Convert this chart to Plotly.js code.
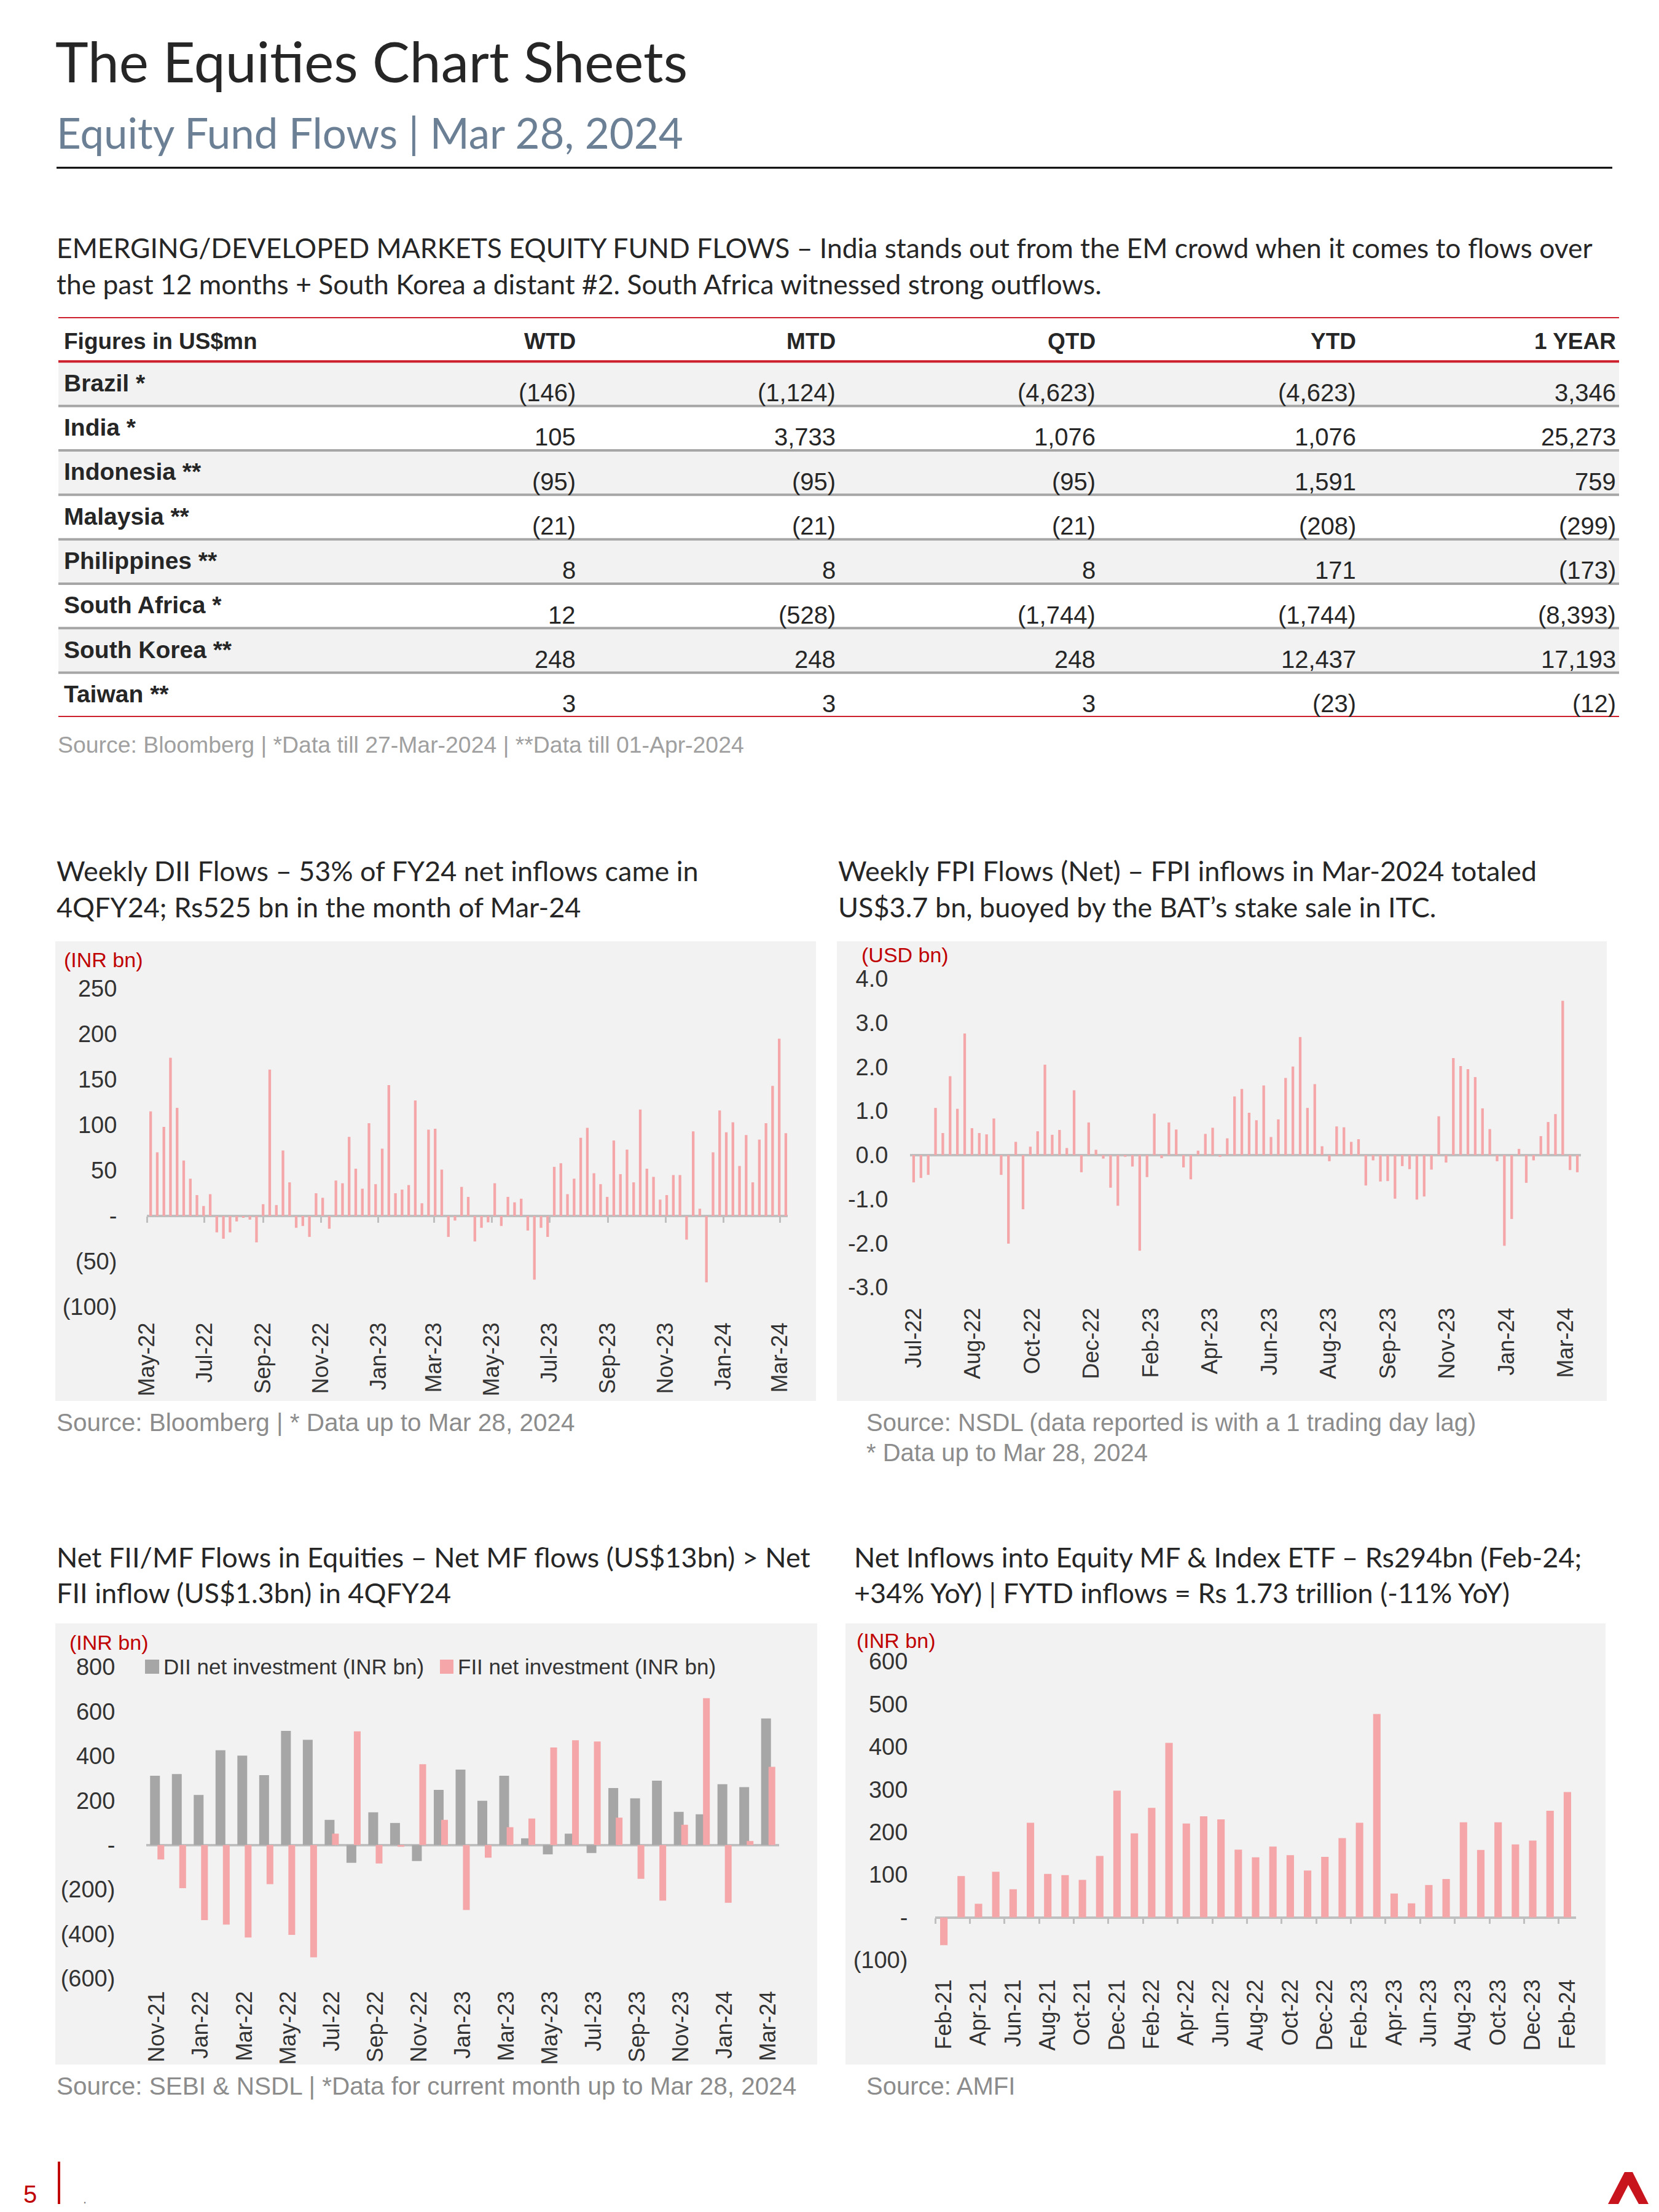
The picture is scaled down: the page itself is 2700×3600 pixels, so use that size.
<!DOCTYPE html>
<html><head><meta charset="utf-8">
<script src="https://cdn.plot.ly/plotly-3.0.1.min.js"></script>
<style>html,body{margin:0;padding:0;background:#fff}</style>
</head><body>
<div id="chart" style="width:2700px;height:3600px"></div>
<script>
// ================= DATA =================
const tableHeaders = ['Figures in US$mn','WTD','MTD','QTD','YTD','1 YEAR'];
const tableCountries = ['Brazil *','India *','Indonesia **','Malaysia **','Philippines **','South Africa *','South Korea **','Taiwan **'];
const wtd     = [-146, 105, -95, -21, 8, 12, 248, 3];
const mtd     = [-1124, 3733, -95, -21, 8, -528, 248, 3];
const qtd     = [-4623, 1076, -95, -21, 8, -1744, 248, 3];
const ytd     = [-4623, 1076, 1591, -208, 171, -1744, 12437, -23];
const oneYear = [3346, 25273, 759, -299, -173, -8393, 17193, -12];

// Weekly DII flows (INR bn)
const diiWeeks = ['2022-05-05','2022-05-12','2022-05-19','2022-05-26','2022-06-02','2022-06-09','2022-06-16','2022-06-23','2022-06-30',
 '2022-07-07','2022-07-14','2022-07-21','2022-07-28','2022-08-04','2022-08-11','2022-08-18','2022-08-25',
 '2022-09-01','2022-09-08','2022-09-15','2022-09-22','2022-09-29','2022-10-06','2022-10-13','2022-10-20','2022-10-27',
 '2022-11-03','2022-11-10','2022-11-17','2022-11-24','2022-12-01','2022-12-08','2022-12-15','2022-12-22','2022-12-29',
 '2023-01-05','2023-01-12','2023-01-19','2023-01-26','2023-02-02','2023-02-09','2023-02-16','2023-02-23',
 '2023-03-02','2023-03-09','2023-03-16','2023-03-23','2023-03-30','2023-04-06','2023-04-13','2023-04-20','2023-04-27',
 '2023-05-04','2023-05-11','2023-05-18','2023-05-25','2023-06-01','2023-06-08','2023-06-15','2023-06-22','2023-06-29',
 '2023-07-06','2023-07-13','2023-07-20','2023-07-27','2023-08-03','2023-08-10','2023-08-17','2023-08-24','2023-08-31',
 '2023-09-07','2023-09-14','2023-09-21','2023-09-28','2023-10-05','2023-10-12','2023-10-19','2023-10-26',
 '2023-11-02','2023-11-09','2023-11-16','2023-11-23','2023-11-30','2023-12-07','2023-12-14','2023-12-21','2023-12-28',
 '2024-01-04','2024-01-11','2024-01-18','2024-01-25','2024-02-01','2024-02-08','2024-02-15','2024-02-22','2024-02-29','2024-03-07'];
const diiFlows = [115,70,98,174,119,61,41,23,11,24,
 -18,-25,-18,-6,-2,-4,-29,13,161,12,
 72,37,-13,-11,-23,25,20,-14,39,36,
 87,52,30,102,35,74,144,25,29,34,
 127,14,95,96,51,-23,-5,32,21,-28,
 -13,-7,36,-11,21,15,19,-16,-70,-13,
 -23,54,58,24,41,86,97,47,35,21,
 83,46,73,37,117,52,43,18,23,45,
 45,-26,93,8,-73,70,116,92,103,55,
 89,37,84,102,143,195,91];
const diiYTicks = [-100,-50,0,50,100,150,200,250];
const diiYLabels = ['(100)','(50)','-','50','100','150','200','250'];

// Weekly FPI flows (USD bn)
const fpiFlows = [-0.62,-0.52,-0.45,1.07,0.50,1.79,1.05,2.76,0.61,0.50,
 0.47,0.83,-0.45,-2.01,0.30,-1.23,0.19,0.54,2.05,0.46,
 0.57,0.16,1.47,-0.39,0.74,0.12,-0.08,-0.74,-1.15,-0.04,
 -0.26,-2.17,-0.50,0.94,-0.07,0.74,0.58,-0.28,-0.55,0.10,
 0.48,0.62,-0.04,0.38,1.33,1.50,0.96,0.79,1.58,0.41,
 0.81,1.75,2.01,2.68,1.07,1.61,0.20,-0.14,0.65,0.63,
 0.30,0.36,-0.69,-0.12,-0.60,-0.59,-0.99,-0.25,-0.32,-1.01,
 -0.94,-0.33,0.88,-0.17,2.20,2.02,1.95,1.77,1.06,0.59,
 -0.14,-2.06,-1.45,0.14,-0.63,-0.12,0.43,0.75,0.93,3.50,
 -0.34,-0.39];
const fpiTickLabels = ['Jul-22','Aug-22','Oct-22','Dec-22','Feb-23','Apr-23','Jun-23','Aug-23','Sep-23','Nov-23','Jan-24','Mar-24'];
const fpiYTicks = [-3,-2,-1,0,1,2,3,4];
const fpiYLabels = ['-3.0','-2.0','-1.0','0.0','1.0','2.0','3.0','4.0'];

// Monthly net DII / FII (INR bn)
const fiiMonths = ['Nov-21','Dec-21','Jan-22','Feb-22','Mar-22','Apr-22','May-22','Jun-22','Jul-22','Aug-22','Sep-22','Oct-22',
 'Nov-22','Dec-22','Jan-23','Feb-23','Mar-23','Apr-23','May-23','Jun-23','Jul-23','Aug-23','Sep-23','Oct-23',
 'Nov-23','Dec-23','Jan-24','Feb-24','Mar-24'];
const diiNet = [311,319,225,426,402,314,513,473,113,-80,147,99,-72,248,339,199,311,30,-42,51,-36,256,210,289,149,138,273,260,569];
const fiiNet = [-65,-194,-338,-358,-416,-176,-404,-505,51,511,-83,-8,363,113,-292,-57,80,119,438,471,465,123,-152,-250,91,660,-260,18,351];
const seriesNames = ['DII net investment (INR bn)','FII net investment (INR bn)'];
const fiiYTicks = [-600,-400,-200,0,200,400,600,800];
const fiiYLabels = ['(600)','(400)','(200)','-','200','400','600','800'];

// Monthly net inflows into equity MF & index ETF (INR bn)
const mfMonths = ['Feb-21','Mar-21','Apr-21','May-21','Jun-21','Jul-21','Aug-21','Sep-21','Oct-21','Nov-21','Dec-21',
 'Jan-22','Feb-22','Mar-22','Apr-22','May-22','Jun-22','Jul-22','Aug-22','Sep-22','Oct-22','Nov-22','Dec-22',
 'Jan-23','Feb-23','Mar-23','Apr-23','May-23','Jun-23','Jul-23','Aug-23','Sep-23','Oct-23','Nov-23','Dec-23',
 'Jan-24','Feb-24'];
const mfFlows = [-65,97,32,107,66,222,102,99,88,144,297,
 197,257,409,220,237,230,159,141,166,146,110,142,
 186,222,477,56,33,76,90,223,158,223,171,180,
 250,294];
const mfYTicks = [-100,0,100,200,300,400,500,600];
const mfYLabels = ['(100)','-','100','200','300','400','500','600'];

// ================= STYLE / LAYOUT =================
const W = 2700, H = 3600;
const px = v => v / W;
const py = v => 1 - v / H;
const ARIAL = 'Liberation Sans, Arial, sans-serif';
const CAL = 'Lato, sans-serif';
const PINK = '#F4A6A8', GREY = '#A6A6A6', ZERO = '#BFBFBF', RED = '#C00000', TXT = '#262626', TICK = '#333333';
const SRC = '#8C8C8C';

function fmt(v) {
  const s = Math.abs(v).toLocaleString('en-US');
  return v < 0 ? '(' + s + ')' : s;
}
function ann(text, x, y, size, opts) {
  return Object.assign({text: text, x: px(x), y: py(y), xref: 'paper', yref: 'paper', showarrow: false,
    xanchor: 'left', yanchor: 'middle', font: {family: ARIAL, size: size, color: TXT}}, opts || {});
}
function zeroPos(dom, lo, hi) { return dom[0] + (0 - lo) / (hi - lo) * (dom[1] - dom[0]); }

const yDom1 = [py(2127), py(1609)];
const yDom2 = [py(2095), py(1593)];
const yDom3 = [py(3220), py(2713)];
const yDom4 = [py(3190), py(2704)];

const xTickFont = {family: ARIAL, size: 36, color: TICK};
const yTickFont = {family: ARIAL, size: 38, color: TICK};
const noTick = 'rgba(0,0,0,0)';

const traces = [
  {type: 'bar', x: diiWeeks, y: diiFlows, xaxis: 'x', yaxis: 'y', marker: {color: PINK}, width: 2.8 * 86400000, hoverinfo: 'skip', showlegend: false},
  {type: 'scatter', mode: 'none', x: diiWeeks, y: diiFlows, xaxis: 'x6', yaxis: 'y', hoverinfo: 'skip', showlegend: false},
  {type: 'bar', x: fpiFlows.map((_, i) => i), y: fpiFlows, xaxis: 'x2', yaxis: 'y2', marker: {color: PINK}, width: 0.36, hoverinfo: 'skip', showlegend: false},
  {type: 'bar', name: seriesNames[0], x: fiiMonths, y: diiNet, xaxis: 'x3', yaxis: 'y3', marker: {color: GREY}, width: 0.45, offset: -0.324, hoverinfo: 'skip', showlegend: false},
  {type: 'bar', name: seriesNames[1], x: fiiMonths, y: fiiNet, xaxis: 'x3', yaxis: 'y3', marker: {color: PINK}, width: 0.31, offset: 0.014, hoverinfo: 'skip', showlegend: false},
  {type: 'bar', x: mfMonths, y: mfFlows, xaxis: 'x4', yaxis: 'y4', marker: {color: PINK}, width: 0.43, hoverinfo: 'skip', showlegend: false},
  {type: 'scatter', mode: 'none', x: mfFlows.map((_, i) => i), y: mfFlows, xaxis: 'x7', yaxis: 'y4', hoverinfo: 'skip', showlegend: false},
  {type: 'scatter', mode: 'none', x: wtd.map((_, i) => i + 1), y: tableCountries.map((_, i) => i + 1), xaxis: 'x5', yaxis: 'y5', hoverinfo: 'skip', showlegend: false}
];

const baseX = {showgrid: false, zeroline: false, showline: false, tickangle: -90, ticks: 'outside', ticklen: 20, tickcolor: noTick, tickfont: xTickFont, fixedrange: true};
const baseY = {showgrid: false, zeroline: true, zerolinecolor: ZERO, zerolinewidth: 4, showline: false, ticks: 'outside', tickcolor: noTick, tickfont: yTickFont, fixedrange: true};

const layout = {
  width: W, height: H, autosize: false,
  margin: {l: 0, r: 0, t: 0, b: 0, pad: 0},
  paper_bgcolor: '#FFFFFF', plot_bgcolor: 'rgba(0,0,0,0)',
  barmode: 'overlay', showlegend: false,
  xaxis: Object.assign({}, baseX, {type: 'date', domain: [px(239), px(1282)], range: ['2022-05-01', '2024-03-09'], tick0: '2022-05-01', dtick: 'M2', tickformat: '%b-%y', ticklen: 10, anchor: 'y'}),
  xaxis6: {type: 'date', overlaying: 'x', anchor: 'free', position: zeroPos(yDom1, -100, 250), domain: [px(239), px(1282)],
    range: ['2022-05-01', '2024-03-09'], tick0: '2022-05-01', dtick: 'M2', ticks: 'outside', ticklen: 10, tickwidth: 3, tickcolor: ZERO,
    showticklabels: false, showgrid: false, zeroline: false, showline: false, fixedrange: true},
  yaxis: Object.assign({}, baseY, {domain: yDom1, range: [-100, 250], tickvals: diiYTicks, ticktext: diiYLabels, ticklen: 40, anchor: 'x'}),

  xaxis2: Object.assign({}, baseX, {domain: [px(1481), px(2573)], range: [-0.5, 91.5], tickvals: fpiTickLabels.map((_, i) => i * 8.13), ticktext: fpiTickLabels, ticklen: 18, anchor: 'y2'}),
  yaxis2: Object.assign({}, baseY, {domain: yDom2, range: [-3, 4], tickvals: fpiYTicks, ticktext: fpiYLabels, ticklen: 27, anchor: 'x2'}),

  xaxis3: Object.assign({}, baseX, {type: 'category', categoryarray: fiiMonths, domain: [px(238), px(1268)], range: [-0.5, 28.5], tickvals: fiiMonths.filter((_, i) => i % 2 === 0), ticklen: 5, anchor: 'y3'}),
  yaxis3: Object.assign({}, baseY, {domain: yDom3, range: [-600, 800], tickvals: fiiYTicks, ticktext: fiiYLabels, ticklen: 42, anchor: 'x3'}),

  xaxis4: Object.assign({}, baseX, {type: 'category', categoryarray: mfMonths, domain: [px(1522), px(2565)], range: [-0.5, 36.5], tickvals: mfMonths.filter((_, i) => i % 2 === 0), ticklen: 16, anchor: 'y4'}),
  xaxis7: {type: 'linear', overlaying: 'x4', anchor: 'free', position: zeroPos(yDom4, -100, 600), domain: [px(1522), px(2565)],
    range: [-0.5, 36.5], tick0: -0.5, dtick: 2, ticks: 'outside', ticklen: 9, tickwidth: 3, tickcolor: ZERO,
    showticklabels: false, showgrid: false, zeroline: false, showline: false, fixedrange: true},
  yaxis4: Object.assign({}, baseY, {domain: yDom4, range: [-100, 600], tickvals: mfYTicks, ticktext: mfYLabels, ticklen: 36, anchor: 'x4'}),

  xaxis5: {domain: [px(95), px(2635)], range: [0, 6], visible: false, fixedrange: true, anchor: 'y5'},
  yaxis5: {domain: [py(1167), py(516)], range: [9, 0], visible: false, fixedrange: true, anchor: 'x5'},
  shapes: [], annotations: []
};

const S = layout.shapes, A = layout.annotations;

// chart panel backgrounds
[[90, 1532, 1328, 2280], [1362, 1532, 2615, 2280], [90, 2642, 1330, 3360], [1376, 2642, 2613, 3360]].forEach(b => {
  S.push({type: 'rect', xref: 'paper', yref: 'paper', x0: px(b[0]), x1: px(b[2]), y0: py(b[3]), y1: py(b[1]), fillcolor: '#F2F2F2', line: {width: 0}, layer: 'below'});
});
// header rule
S.push({type: 'line', xref: 'paper', yref: 'paper', x0: px(92), x1: px(2624), y0: py(273), y1: py(273), line: {color: '#000', width: 3}});

// table: row fills and rules (row/column units of axis x5/y5)
tableCountries.forEach((c, i) => {
  const r = i + 1;
  if (i % 2 === 0) S.push({type: 'rect', xref: 'x5', yref: 'y5', x0: 0, x1: 6, y0: r, y1: r + 1, fillcolor: '#F2F2F2', line: {width: 0}, layer: 'below'});
  if (r >= 2) S.push({type: 'line', xref: 'x5', yref: 'y5', x0: 0, x1: 6, y0: r, y1: r, line: {color: '#A6A6A6', width: 4}});
});
[0, 1, tableCountries.length + 1].forEach(r => {
  S.push({type: 'line', xref: 'x5', yref: 'y5', x0: 0, x1: 6, y0: r, y1: r, line: {color: '#CC1F2B', width: 4}});
});
// table text
tableHeaders.forEach((h, k) => {
  A.push({text: h, xref: 'x5', yref: 'y5', x: k === 0 ? 0 : k + 1, y: 0.54, xshift: k === 0 ? 7 : -3, showarrow: false,
    xanchor: k === 0 ? 'left' : 'right', yanchor: 'middle', font: {family: ARIAL, size: 37, color: TXT, weight: 'bold'}});
});
const cols = [wtd, mtd, qtd, ytd, oneYear];
tableCountries.forEach((c, i) => {
  const r = i + 1;
  A.push({text: c, xref: 'x5', yref: 'y5', x: 0, y: r + 0.48, xshift: 7, showarrow: false, xanchor: 'left', yanchor: 'middle',
    font: {family: ARIAL, size: 39, color: TXT, weight: 'bold'}});
  cols.forEach((col, k) => {
    A.push({text: fmt(col[i]), xref: 'x5', yref: 'y5', x: k + 2, y: r + 0.7, xshift: -3, showarrow: false, xanchor: 'right', yanchor: 'middle',
      font: {family: ARIAL, size: 40, color: TXT}});
  });
});

// page titles
A.push(ann('The Equities Chart Sheets', 88, 98, 91, {font: {family: CAL, size: 91, color: TXT}}));
A.push(ann('Equity Fund Flows | Mar 28, 2024', 90, 215, 69, {font: {family: CAL, size: 69, color: '#6B7F95'}}));
A.push(ann('EMERGING/DEVELOPED MARKETS EQUITY FUND FLOWS – India stands out from the EM crowd when it comes to flows over', 90, 402, 44.4, {font: {family: CAL, size: 44.4, color: TXT}}));
A.push(ann('the past 12 months + South Korea a distant #2. South Africa witnessed strong outflows.', 90, 462, 44.4, {font: {family: CAL, size: 44.4, color: TXT}}));
A.push(ann('Source: Bloomberg | *Data till 27-Mar-2024 | **Data till 01-Apr-2024', 92, 1212, 37.4, {font: {family: ARIAL, size: 37.4, color: '#A0A0A0'}}));

// chart titles
const tf = {family: CAL, size: 45, color: TXT};
A.push(ann('Weekly DII Flows – 53% of FY24 net inflows came in', 90, 1417, 45, {font: tf}));
A.push(ann('4QFY24; Rs525 bn in the month of Mar-24', 90, 1476, 45, {font: tf}));
A.push(ann('Weekly FPI Flows (Net) – FPI inflows in Mar-2024 totaled', 1362, 1417, 45, {font: tf}));
A.push(ann('US$3.7 bn, buoyed by the BAT’s stake sale in ITC.', 1362, 1476, 45, {font: tf}));
A.push(ann('Net FII/MF Flows in Equities – Net MF flows (US$13bn) > Net', 90, 2534, 45, {font: tf}));
A.push(ann('FII inflow (US$1.3bn) in 4QFY24', 90, 2592, 45, {font: tf}));
A.push(ann('Net Inflows into Equity MF & Index ETF – Rs294bn (Feb-24;', 1388, 2534, 45, {font: tf}));
A.push(ann('+34% YoY) | FYTD inflows = Rs 1.73 trillion (-11% YoY)', 1388, 2592, 45, {font: tf}));

// unit labels
const uf = {family: ARIAL, size: 34, color: RED};
A.push(ann('(INR bn)', 102, 1562, 34, {font: uf}));
A.push(ann('(USD bn)', 1400, 1554, 34, {font: uf}));
A.push(ann('(INR bn)', 111, 2673, 34, {font: uf}));
A.push(ann('(INR bn)', 1392, 2670, 34, {font: uf}));

// legend for FII/MF chart
const lf = {family: ARIAL, size: 35, color: TICK};
S.push({type: 'rect', xref: 'paper', yref: 'paper', x0: px(236), x1: px(259), y0: py(2724), y1: py(2701), fillcolor: GREY, line: {width: 0}});
A.push(ann(seriesNames[0], 264, 2712, 35, {font: lf}));
S.push({type: 'rect', xref: 'paper', yref: 'paper', x0: px(716), x1: px(738), y0: py(2724), y1: py(2701), fillcolor: PINK, line: {width: 0}});
A.push(ann(seriesNames[1], 743, 2712, 35, {font: lf}));

// sources
const sf = {family: ARIAL, size: 40.5, color: SRC};
A.push(ann('Source: Bloomberg | * Data up to Mar 28, 2024', 90, 2315, 40.5, {font: sf}));
A.push(ann('Source: NSDL (data reported is with a 1 trading day lag)', 1408, 2315, 40, {font: {family: ARIAL, size: 40, color: SRC}}));
A.push(ann('* Data up to Mar 28, 2024', 1408, 2364, 40, {font: {family: ARIAL, size: 40, color: SRC}}));
A.push(ann('Source: SEBI & NSDL | *Data for current month up to Mar 28, 2024', 90, 3395, 40.5, {font: sf}));
A.push(ann('Source: AMFI', 1408, 3395, 40, {font: {family: ARIAL, size: 40, color: SRC}}));

// footer
A.push(ann('5', 36, 3571, 40, {font: {family: ARIAL, size: 40, color: RED}}));
S.push({type: 'line', xref: 'paper', yref: 'paper', x0: px(96), x1: px(96), y0: py(3587), y1: py(3518), line: {color: RED, width: 4}});
A.push(ann('.', 133, 3578, 22, {font: {family: ARIAL, size: 22, color: '#777'}}));
const logo = [[2617, 3587], [2644, 3535], [2657, 3535], [2683, 3587], [2667, 3587], [2650, 3556], [2634, 3587]];
S.push({type: 'path', xref: 'paper', yref: 'paper', path: 'M' + logo.map(p => px(p[0]).toFixed(5) + ',' + py(p[1]).toFixed(5)).join(' L') + ' Z',
  fillcolor: '#C8151D', line: {width: 0}});

Plotly.newPlot('chart', traces, layout, {displayModeBar: false, staticPlot: true});
</script>
</body></html>
